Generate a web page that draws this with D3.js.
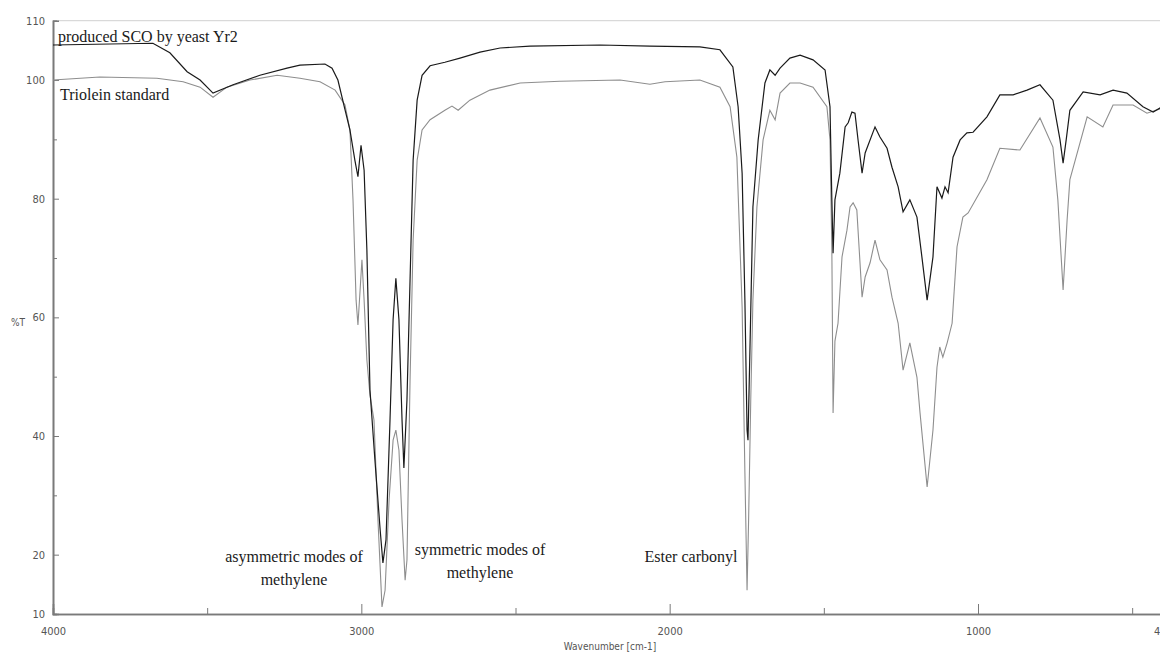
<!DOCTYPE html>
<html><head><meta charset="utf-8">
<script src="https://cdn.jsdelivr.net/npm/d3@7"></script>
<style>html,body{margin:0;padding:0;background:#fff;overflow:hidden}</style>
</head><body>
<svg id="c" width="1160" height="655"></svg>
<script>
// Wavenumber (cm-1) and %T for produced SCO by yeast Yr2 (dark trace)
const scoWave = [4000,3676,3621,3565,3523,3481,3416,3329,3241,3199,
  3118,3095,3076,3053,3037,3021,3011,3001,2991,2982,
  2972,2956,2939,2930,2920,2907,2897,2888,2878,2868,
  2862,2852,2842,2832,2819,2803,2777,2729,2680,2615,
  2550,2453,2226,2064,1902,1837,1795,1778,1765,1756,
  1749,1746,1739,1730,1713,1691,1675,1658,1642,1610,
  1577,1535,1496,1480,1474,1470,1464,1448,1431,1421,
  1409,1399,1389,1376,1366,1334,1318,1295,1279,1259,
  1243,1221,1198,1182,1165,1146,1133,1117,1107,1097,
  1081,1058,1036,1016,971,929,886,841,799,757,
  734,724,714,702,659,604,562,517,465,432,400];
const scoT = [105.9,106.2,104.6,101.4,100.0,97.8,99.2,100.8,102.0,102.5,
  102.7,102.0,100.0,95.0,91.6,86.5,83.7,89.0,84.8,71.4,
  47.8,36.0,24.2,18.6,22.5,42.7,59.6,66.6,59.6,42.7,
  34.6,46.1,66.3,86.5,96.6,100.8,102.4,103.0,103.7,104.7,
  105.4,105.7,105.9,105.7,105.6,105.1,102.2,95.5,84.3,62.9,
  41.0,39.3,56.2,78.6,89.9,99.5,101.7,100.8,102.0,103.7,
  104.2,103.4,101.7,95.5,79.8,70.8,79.8,84.3,92.1,92.8,
  94.6,94.4,89.9,84.3,87.7,92.1,90.4,88.5,85.3,82.0,
  77.8,79.8,76.9,70.2,62.9,70.2,82.0,80.1,82.0,81.0,
  87.0,89.9,91.1,91.2,93.8,97.5,97.5,98.3,99.2,96.6,
  89.9,86.0,89.9,94.9,98.0,97.5,98.3,97.8,95.5,94.6,95.6];
// Triolein standard (grey trace)
const trioWave = [4000,3848,3663,3578,3523,3481,3436,3361,3273,3199,
  3134,3085,3053,3037,3027,3017,3011,3004,2998,2991,
  2982,2972,2959,2946,2933,2923,2910,2897,2888,2878,
  2868,2858,2852,2842,2832,2819,2803,2777,2729,2706,
  2686,2648,2583,2485,2356,2161,2064,2015,1902,1837,
  1804,1782,1765,1756,1749,1744,1737,1730,1717,1697,
  1675,1658,1642,1610,1577,1535,1490,1480,1474,1470,
  1464,1454,1441,1425,1415,1405,1393,1376,1366,1350,
  1334,1318,1295,1279,1259,1243,1221,1198,1188,1165,
  1146,1133,1124,1114,1100,1084,1068,1049,1032,971,
  929,864,799,757,741,724,711,702,646,595,
  562,497,452,400];
const trioT = [100.0,100.5,100.3,99.7,98.8,97.1,98.8,100.0,100.8,100.3,
  99.7,98.3,95.8,91.6,79.8,62.9,58.7,64.6,69.7,62.9,
  52.8,46.9,42.7,25.8,11.2,14.0,29.2,39.3,41.0,37.6,
  25.8,15.7,19.1,49.4,73.0,86.5,91.6,93.3,94.9,95.6,
  94.9,96.6,98.3,99.5,99.8,100.0,99.3,99.7,100.0,98.8,
  95.5,87.0,61.7,33.8,14.0,25.8,46.1,62.9,78.6,89.9,
  94.9,93.3,97.8,99.5,99.5,98.8,95.5,89.9,71.4,43.9,
  56.0,59.0,70.2,74.7,78.6,79.3,78.1,63.4,66.8,69.2,
  73.0,69.7,68.0,63.4,59.0,51.1,55.7,49.9,43.9,31.4,
  41.0,51.6,55.0,53.3,55.7,59.0,71.9,76.9,77.6,83.2,
  88.5,88.2,93.6,88.7,79.8,64.6,76.4,83.2,93.8,92.1,
  95.8,95.8,94.4,95.3];

const xTickLabels = [4000,3000,2000,1000,400];
const xMinorTicks = [3500,2500,1500,500];
const yTickLabels = [110,100,80,60,40,20,10];
const yMinorTicks = [90,70,50,30];

const annotations = [
  {lines:["produced SCO by yeast Yr2"], x:58, y:42, anchor:"start"},
  {lines:["Triolein standard"], x:60, y:100, anchor:"start"},
  {lines:["asymmetric modes of","methylene"], x:294, y:562, anchor:"middle"},
  {lines:["symmetric modes of","methylene"], x:480, y:555, anchor:"middle"},
  {lines:["Ester carbonyl"], x:691, y:562, anchor:"middle"}
];

const svg = d3.select("#c");
const x = d3.scaleLinear().domain([4000,400]).range([53,1163]);
const y = d3.scaleLinear().domain([10,110]).range([614,20.7]);
const axisColor = "#7a7a7a";
const tickFont = "'DejaVu Sans Condensed','Liberation Sans Narrow','Liberation Sans',sans-serif";

// frame top
svg.append("line").attr("x1",x(4000)).attr("x2",x(400)).attr("y1",y(110)).attr("y2",y(110))
  .attr("stroke","#d0d0d0").attr("stroke-width",1);

const xAxis = d3.axisBottom(x).tickValues(xTickLabels).tickSize(-10).tickPadding(13).tickFormat(d3.format("d"));
const gx = svg.append("g").attr("transform",`translate(0,${y(10)})`).call(xAxis);
const xMinor = d3.axisBottom(x).tickValues(xMinorTicks).tickSize(-6).tickFormat("");
const gxm = svg.append("g").attr("transform",`translate(0,${y(10)})`).call(xMinor);

const yAxis = d3.axisLeft(y).tickValues(yTickLabels).tickSize(-6).tickPadding(8).tickFormat(d3.format("d"));
const gy = svg.append("g").attr("transform",`translate(${x(4000)},0)`).call(yAxis);
const yMinor = d3.axisLeft(y).tickValues(yMinorTicks).tickSize(-4).tickFormat("");
const gym = svg.append("g").attr("transform",`translate(${x(4000)},0)`).call(yMinor);

[gx,gxm,gy,gym].forEach(g=>{
  g.select(".domain").attr("stroke",axisColor).attr("stroke-width",1.6);
  g.selectAll(".tick line").attr("stroke",axisColor).attr("stroke-width",1);
  g.selectAll("text").attr("fill","#555").attr("font-family",tickFont).attr("font-size",11);
});
gy.selectAll(".tick").filter(d=>d===10||d===110).select("line").attr("stroke-opacity",0);
gx.selectAll(".tick").filter(d=>d===4000).select("line").attr("stroke-opacity",0);

svg.append("text").attr("x",18).attr("y",326).attr("text-anchor","middle")
  .attr("font-family",tickFont).attr("font-size",10).attr("fill","#555").text("%T");
svg.append("text").attr("x",610).attr("y",650).attr("text-anchor","middle")
  .attr("font-family",tickFont).attr("font-size",10).attr("fill","#555").text("Wavenumber [cm-1]");

const line = d3.line().x(d=>x(d[0])).y(d=>y(d[1]));
const trio = trioWave.map((w,i)=>[w,trioT[i]]);
const sco = scoWave.map((w,i)=>[w,scoT[i]]);
svg.append("path").datum(trio).attr("d",line).attr("fill","none").attr("stroke","#8e8e8e").attr("stroke-width",1.1);
svg.append("path").datum(sco).attr("d",line).attr("fill","none").attr("stroke","#1a1a1a").attr("stroke-width",1.2);

annotations.forEach(a=>{
  const t = svg.append("text").attr("x",a.x).attr("y",a.y).attr("text-anchor",a.anchor)
    .attr("font-family","'Liberation Serif','Times New Roman',serif").attr("font-size",16).attr("fill","#1a1a1a");
  a.lines.forEach((l,i)=>t.append("tspan").attr("x",a.x).attr("dy",i===0?0:23).text(l));
});
</script>
</body></html>
